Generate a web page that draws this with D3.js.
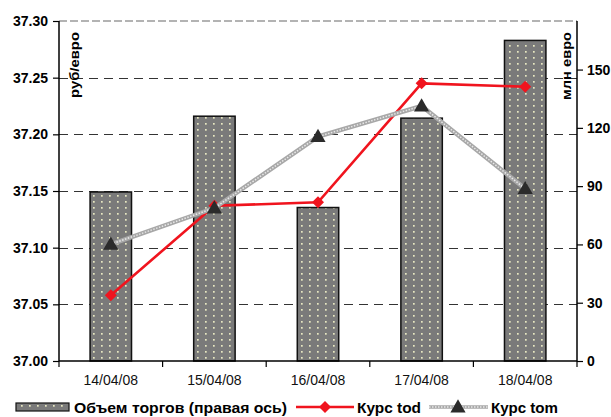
<!DOCTYPE html>
<html>
<head>
<meta charset="utf-8">
<script src="https://cdn.jsdelivr.net/npm/d3@7/dist/d3.min.js"></script>
<style>
  html, body { margin: 0; padding: 0; background: #fff; }
  svg { display: block; font-family: "Liberation Sans", Arial, sans-serif; }
</style>
</head>
<body>
<svg id="chart" width="611" height="417"></svg>
<script>
// Trading dates, EUR volume (mln, right axis) and RUB/EUR rates
const dates  = ["14/04/08", "15/04/08", "16/04/08", "17/04/08", "18/04/08"];
const volume = [87, 126, 79, 125, 165];
const tod    = [37.058, 37.137, 37.140, 37.245, 37.242];
const tom    = [37.103, 37.135, 37.198, 37.225, 37.152];
const leftTicks  = [37.00, 37.05, 37.10, 37.15, 37.20, 37.25, 37.30];
const rightTicks = [0, 30, 60, 90, 120, 150];

const svg = d3.select("#chart");
const pL = 59, pR = 577, pT = 21, pB = 361;

const xo = d3.scaleBand().domain(dates).range([pL, pR]).padding(0);
const xb = d3.scaleBand().domain(dates).range([pL, pR]).paddingInner(0.6).paddingOuter(0.3);
const cx = d => xo(d) + xo.bandwidth() / 2;
const yL = d3.scaleLinear().domain([37.0, 37.3]).range([pB, pT]);
const yR = d3.scaleLinear().domain([0, 175]).range([pB, pT]);

// dotted fill for volume bars
const defs = svg.append("defs");
const pat = defs.append("pattern").attr("id", "dots")
  .attr("patternUnits", "userSpaceOnUse").attr("width", 8).attr("height", 6)
  .attr("x", 2).attr("y", 1);
pat.append("rect").attr("width", 8).attr("height", 6).attr("fill", "#7a7a7a");
pat.append("rect").attr("x", 3).attr("y", 2).attr("width", 1.7).attr("height", 1.7).attr("fill", "#e8e8c2");

// plot frame top edge
svg.append("line").attr("x1", pL).attr("x2", pR).attr("y1", pT).attr("y2", pT)
  .attr("stroke", "#9a9a9a").attr("stroke-width", 1.5).attr("stroke-dasharray", "8,3");

// horizontal gridlines from left axis
svg.append("g").selectAll("line").data(leftTicks.slice(1, -1)).join("line")
  .attr("x1", pL).attr("x2", pR)
  .attr("y1", d => Math.round(yL(d)) + 0.5).attr("y2", d => Math.round(yL(d)) + 0.5)
  .attr("stroke", "#333").attr("stroke-width", 1).attr("stroke-dasharray", "9,6");

// volume bars
svg.append("g").selectAll("rect").data(dates).join("rect")
  .attr("x", d => xb(d)).attr("width", xb.bandwidth())
  .attr("y", (d, i) => yR(volume[i])).attr("height", (d, i) => yR(0) - yR(volume[i]))
  .attr("fill", "url(#dots)").attr("stroke", "#111").attr("stroke-width", 1.5);

// left and right axes
const axL = svg.append("g").attr("transform", `translate(${pL},0)`)
  .call(d3.axisLeft(yL).tickValues(leftTicks).tickFormat(d3.format(".2f")).tickSize(6).tickPadding(5));
const axR = svg.append("g").attr("transform", `translate(${pR},0)`)
  .call(d3.axisRight(yR).tickValues(rightTicks).tickSize(6).tickPadding(4));
[axL, axR].forEach(a => {
  a.select(".domain").attr("stroke", "#000").attr("stroke-width", 1.5).attr("d", `M0,${pT}V${pB}`);
  a.selectAll(".tick line").attr("stroke", "#000").attr("stroke-width", 1.2);
  a.selectAll(".tick text").attr("font-size", 14).attr("font-weight", "bold").attr("fill", "#000");
});

// bottom axis: labels at category centres, ticks at category boundaries
const axB = svg.append("g").attr("transform", `translate(0,${pB})`)
  .call(d3.axisBottom(xo).tickSize(0).tickPadding(14));
axB.select(".domain").attr("stroke", "#000").attr("stroke-width", 1.5).attr("d", `M${pL},0H${pR}`);
axB.selectAll(".tick text").attr("font-size", 14).attr("fill", "#111");
axB.append("g").selectAll("line").data(dates.map(d => xo(d)).concat([pR])).join("line")
  .attr("x1", d => d).attr("x2", d => d).attr("y1", 0).attr("y2", 6)
  .attr("stroke", "#000").attr("stroke-width", 1.2);

// axis titles
svg.append("text").attr("transform", "translate(78.5,65) rotate(-90)")
  .attr("text-anchor", "middle").attr("font-size", 12.5).attr("font-weight", "bold")
  .attr("textLength", 66).attr("lengthAdjust", "spacingAndGlyphs").text("руб/евро");
svg.append("text").attr("transform", "translate(570.5,66) rotate(-90)")
  .attr("text-anchor", "middle").attr("font-size", 12.5).attr("font-weight", "bold")
  .attr("textLength", 68).attr("lengthAdjust", "spacingAndGlyphs").text("млн евро");

// series line styles
const line = d3.line();
function drawTom(g, pts, w) {
  g.append("path").attr("d", line(pts)).attr("fill", "none")
    .attr("stroke", "#a8a8a8").attr("stroke-width", w);
  g.append("path").attr("d", line(pts)).attr("fill", "none")
    .attr("stroke", "#e8e8e8").attr("stroke-width", 1.5).attr("stroke-dasharray", "1.5,1.5");
}
function drawTod(g, pts) {
  g.append("path").attr("d", line(pts)).attr("fill", "none")
    .attr("stroke", "#f0141e").attr("stroke-width", 2.6);
}
const sq = d3.symbol().type(d3.symbolSquare).size(72);
const tri = d3.symbol().type(d3.symbolTriangle).size(100);

// Kurs tod
const gTod = svg.append("g");
drawTod(gTod, dates.map((d, i) => [cx(d), yL(tod[i])]));
gTod.selectAll("path.m").data(dates).join("path").attr("class", "m")
  .attr("d", sq)
  .attr("transform", (d, i) => `translate(${cx(d)},${yL(tod[i])}) rotate(45)`)
  .attr("fill", "#f0141e");

// Kurs tom
const gTom = svg.append("g");
drawTom(gTom, dates.map((d, i) => [cx(d), yL(tom[i])]), 4.5);
gTom.selectAll("path.m").data(dates).join("path").attr("class", "m")
  .attr("d", tri)
  .attr("transform", (d, i) => `translate(${cx(d)},${yL(tom[i]) + 1})`)
  .attr("fill", "#2b2b2b");

// legend
const lg = svg.append("g").attr("font-size", 15).attr("font-weight", "bold");
lg.append("rect").attr("x", 16).attr("y", 403).attr("width", 53).attr("height", 8)
  .attr("fill", "url(#dots)").attr("stroke", "#111").attr("stroke-width", 1.2);
lg.append("text").attr("x", 74).attr("y", 413)
  .attr("textLength", 213).attr("lengthAdjust", "spacingAndGlyphs").text("Объем торгов (правая ось)");
drawTod(lg, [[296, 407], [354, 407]]);
lg.append("path").attr("d", sq).attr("transform", "translate(325,407) rotate(45)").attr("fill", "#f0141e");
lg.append("text").attr("x", 357).attr("y", 413)
  .attr("textLength", 64).attr("lengthAdjust", "spacingAndGlyphs").text("Курс tod");
const lt = lg.append("g");
drawTom(lt, [[429, 407], [488, 407]], 3.5);
lt.append("path").attr("d", tri).attr("transform", "translate(458,408)").attr("fill", "#2b2b2b");
lg.append("text").attr("x", 491).attr("y", 413)
  .attr("textLength", 67).attr("lengthAdjust", "spacingAndGlyphs").text("Курс tom");
</script>
</body>
</html>
